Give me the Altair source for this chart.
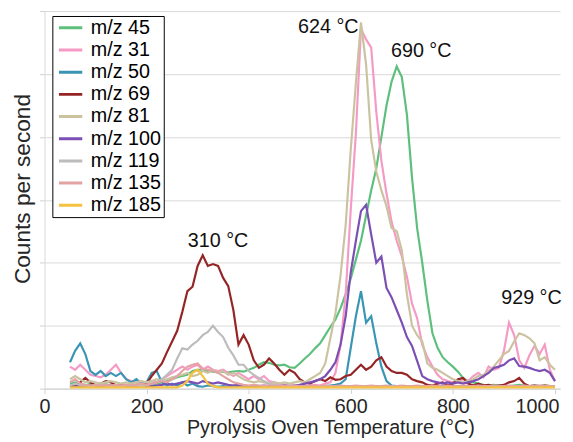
import altair as alt
import pandas as pd

temps = list(range(50, 1001, 10))

series_names = ["m/z 45", "m/z 31", "m/z 50", "m/z 69", "m/z 81",
                "m/z 100", "m/z 119", "m/z 135", "m/z 185"]
series_colors = ["#5cc07c", "#f59ac4", "#3a95b4", "#952525", "#cbc3a0",
                 "#7b4fb3", "#bcbcbc", "#e4a3a3", "#f5c242"]

cps_45 = [0.08, 0.10, 0.06, 0.05, 0.08, 0.06, 0.05, 0.07, 0.05, 0.04,
          0.05, 0.06, 0.05, 0.04, 0.05, 0.06, 0.07, 0.08, 0.10, 0.12,
          0.15, 0.18, 0.20, 0.22, 0.28, 0.30, 0.30, 0.28, 0.27, 0.26,
          0.27, 0.26, 0.27, 0.28, 0.27, 0.30, 0.33, 0.38, 0.42, 0.41,
          0.38, 0.37, 0.38, 0.34, 0.33, 0.40, 0.48, 0.55, 0.64, 0.72,
          0.85, 0.98, 1.10, 1.28, 1.50, 1.75, 2.05, 2.35, 2.75, 3.15,
          3.50, 4.00, 4.50, 4.88, 5.12, 4.95, 4.35, 3.35, 2.55, 2.00,
          1.40, 0.88, 0.65, 0.50, 0.42, 0.35, 0.27, 0.17, 0.12, 0.10,
          0.08, 0.06, 0.05, 0.06, 0.05, 0.05, 0.04, 0.05, 0.06, 0.05,
          0.04, 0.05, 0.04, 0.05, 0.04, 0.04]

cps_31 = [0.35, 0.30, 0.38, 0.30, 0.22, 0.20, 0.18, 0.22, 0.30, 0.38,
          0.25, 0.15, 0.12, 0.10, 0.08, 0.10, 0.12, 0.10, 0.15, 0.20,
          0.25, 0.30, 0.35, 0.30, 0.35, 0.38, 0.30, 0.35, 0.30, 0.28,
          0.30, 0.25, 0.20, 0.25, 0.20, 0.15, 0.20, 0.15, 0.20, 0.12,
          0.10, 0.08, 0.06, 0.05, 0.05, 0.06, 0.05, 0.05, 0.06, 0.05,
          0.08, 0.10, 0.25, 0.70, 1.50, 2.85, 4.05, 5.72, 5.55, 5.42,
          4.40, 3.62, 3.10, 2.65, 2.35, 2.10, 1.78, 1.35, 1.12, 0.70,
          0.50, 0.35, 0.22, 0.15, 0.12, 0.10, 0.12, 0.15, 0.12, 0.20,
          0.25, 0.18, 0.35, 0.30, 0.33, 0.60, 1.05, 0.85, 0.45, 0.33,
          0.53, 0.68, 0.55, 0.70, 0.30, 0.12]

cps_50 = [0.42, 0.60, 0.72, 0.55, 0.28, 0.22, 0.28, 0.20, 0.25, 0.20,
          0.25, 0.15, 0.10, 0.15, 0.08, 0.10, 0.25, 0.28, 0.10, 0.05,
          0.08, 0.05, 0.10, 0.05, 0.08, 0.04, 0.03, 0.05, 0.04, 0.03,
          0.04, 0.03, 0.05, 0.04, 0.03, 0.04, 0.03, 0.04, 0.03, 0.04,
          0.03, 0.04, 0.03, 0.04, 0.03, 0.04, 0.03, 0.04, 0.03, 0.04,
          0.04, 0.05, 0.06, 0.08, 0.15, 0.65, 1.15, 1.55, 1.05, 1.15,
          0.72, 0.35, 0.12, 0.05, 0.04, 0.03, 0.04, 0.03, 0.04, 0.03,
          0.03, 0.04, 0.03, 0.03, 0.04, 0.03, 0.03, 0.04, 0.03, 0.03,
          0.04, 0.03, 0.03, 0.04, 0.03, 0.03, 0.04, 0.03, 0.03, 0.04,
          0.03, 0.03, 0.04, 0.03, 0.03, 0.03]

cps_69 = [0.05, 0.03, 0.10, 0.17, 0.10, 0.05, 0.08, 0.12, 0.10, 0.05,
          0.06, 0.04, 0.05, 0.06, 0.05, 0.08, 0.20, 0.30, 0.40, 0.58,
          0.75, 0.92, 1.22, 1.55, 1.62, 1.95, 2.12, 1.95, 1.98, 1.95,
          1.76, 1.63, 1.25, 0.70, 0.85, 0.70, 0.45, 0.33, 0.38, 0.48,
          0.40, 0.30, 0.22, 0.30, 0.25, 0.15, 0.10, 0.08, 0.12, 0.15,
          0.12, 0.18, 0.14, 0.15, 0.20, 0.22, 0.30, 0.38, 0.30, 0.35,
          0.45, 0.50, 0.35, 0.28, 0.25, 0.25, 0.22, 0.15, 0.12, 0.10,
          0.06, 0.05, 0.08, 0.10, 0.05, 0.08, 0.15, 0.17, 0.08, 0.05,
          0.08, 0.05, 0.06, 0.04, 0.05, 0.06, 0.10, 0.12, 0.17, 0.08,
          0.04, 0.05, 0.04, 0.05, 0.04, 0.04]

cps_81 = [0.15, 0.20, 0.15, 0.10, 0.12, 0.10, 0.08, 0.10, 0.12, 0.10,
          0.08, 0.10, 0.08, 0.10, 0.12, 0.10, 0.12, 0.15, 0.12, 0.15,
          0.18, 0.20, 0.22, 0.25, 0.20, 0.22, 0.28, 0.25, 0.30, 0.25,
          0.28, 0.22, 0.25, 0.20, 0.15, 0.12, 0.10, 0.12, 0.10, 0.08,
          0.10, 0.08, 0.10, 0.08, 0.10, 0.12, 0.10, 0.15, 0.20, 0.25,
          0.40, 0.80, 1.20, 1.80, 2.60, 3.80, 4.85, 5.82, 5.15, 3.95,
          3.45, 3.15, 2.90, 2.55, 2.50, 2.20, 1.50, 1.00, 0.85, 0.75,
          0.40, 0.33, 0.30, 0.25, 0.20, 0.15, 0.12, 0.10, 0.12, 0.15,
          0.20, 0.22, 0.28, 0.35, 0.45, 0.55, 0.60, 0.75, 0.88, 0.85,
          0.80, 0.72, 0.45, 0.50, 0.38, 0.30]

cps_100 = [0.05, 0.03, 0.04, 0.03, 0.05, 0.04, 0.03, 0.04, 0.05, 0.03,
           0.04, 0.03, 0.04, 0.05, 0.04, 0.03, 0.04, 0.05, 0.06, 0.08,
           0.06, 0.08, 0.10, 0.12, 0.10, 0.08, 0.12, 0.10, 0.08, 0.10,
           0.08, 0.06, 0.05, 0.06, 0.05, 0.04, 0.05, 0.04, 0.05, 0.04,
           0.05, 0.04, 0.05, 0.04, 0.05, 0.06, 0.08, 0.10, 0.12, 0.15,
           0.20, 0.30, 0.42, 0.70, 1.15, 1.85, 2.35, 2.82, 2.92, 2.45,
           2.00, 2.10, 1.60, 1.45, 1.25, 1.05, 0.82, 0.68, 0.44, 0.20,
           0.15, 0.12, 0.10, 0.08, 0.10, 0.08, 0.10, 0.08, 0.10, 0.12,
           0.15, 0.20, 0.25, 0.33, 0.35, 0.38, 0.45, 0.48, 0.36, 0.35,
           0.33, 0.30, 0.28, 0.30, 0.25, 0.12]

cps_119 = [0.05, 0.08, 0.06, 0.05, 0.04, 0.05, 0.06, 0.05, 0.04, 0.05,
           0.04, 0.05, 0.06, 0.05, 0.04, 0.06, 0.08, 0.10, 0.15, 0.22,
           0.30, 0.48, 0.64, 0.62, 0.70, 0.76, 0.85, 0.90, 1.00, 0.90,
           0.82, 0.65, 0.53, 0.38, 0.38, 0.28, 0.22, 0.17, 0.12, 0.08,
           0.06, 0.05, 0.04, 0.05, 0.04, 0.03, 0.04, 0.03, 0.04, 0.03,
           0.03, 0.04, 0.03, 0.04, 0.03, 0.03, 0.04, 0.03, 0.03, 0.04,
           0.03, 0.03, 0.04, 0.03, 0.03, 0.04, 0.03, 0.03, 0.04, 0.03,
           0.03, 0.04, 0.03, 0.03, 0.04, 0.03, 0.03, 0.04, 0.03, 0.03,
           0.04, 0.03, 0.03, 0.04, 0.03, 0.03, 0.04, 0.03, 0.03, 0.04,
           0.03, 0.03, 0.04, 0.03, 0.03, 0.03]

cps_135 = [0.10, 0.15, 0.08, 0.06, 0.05, 0.06, 0.05, 0.06, 0.05, 0.06,
           0.05, 0.06, 0.05, 0.06, 0.08, 0.06, 0.08, 0.10, 0.12, 0.10,
           0.15, 0.20, 0.28, 0.35, 0.38, 0.40, 0.32, 0.30, 0.28, 0.25,
           0.20, 0.15, 0.10, 0.08, 0.06, 0.05, 0.06, 0.05, 0.04, 0.05,
           0.04, 0.05, 0.04, 0.04, 0.05, 0.04, 0.04, 0.05, 0.04, 0.04,
           0.05, 0.04, 0.04, 0.05, 0.04, 0.04, 0.05, 0.04, 0.04, 0.05,
           0.04, 0.04, 0.05, 0.04, 0.04, 0.05, 0.04, 0.04, 0.05, 0.04,
           0.04, 0.05, 0.04, 0.04, 0.05, 0.04, 0.04, 0.05, 0.04, 0.04,
           0.05, 0.04, 0.04, 0.05, 0.04, 0.04, 0.05, 0.04, 0.04, 0.05,
           0.04, 0.04, 0.05, 0.04, 0.04, 0.04]

cps_185 = [0.02, 0.02, 0.02, 0.02, 0.02, 0.02, 0.02, 0.02, 0.02, 0.02,
           0.02, 0.02, 0.02, 0.02, 0.02, 0.02, 0.02, 0.02, 0.02, 0.02,
           0.02, 0.02, 0.05, 0.12, 0.25, 0.30, 0.20, 0.08, 0.04, 0.02,
           0.02, 0.02, 0.02, 0.02, 0.02, 0.02, 0.02, 0.02, 0.02, 0.02,
           0.02, 0.02, 0.02, 0.02, 0.02, 0.02, 0.02, 0.02, 0.02, 0.02,
           0.02, 0.02, 0.02, 0.02, 0.02, 0.02, 0.02, 0.02, 0.02, 0.02,
           0.02, 0.02, 0.02, 0.02, 0.02, 0.02, 0.02, 0.02, 0.02, 0.02,
           0.02, 0.02, 0.02, 0.02, 0.02, 0.02, 0.02, 0.02, 0.02, 0.02,
           0.02, 0.02, 0.02, 0.02, 0.02, 0.02, 0.02, 0.02, 0.02, 0.02,
           0.02, 0.02, 0.02, 0.02, 0.02, 0.02]

series_values = [cps_45, cps_31, cps_50, cps_69, cps_81,
                 cps_100, cps_119, cps_135, cps_185]

x_tick_values = [0, 200, 400, 600, 800, 1000]

annot_text = ["624 °C", "690 °C", "310 °C", "929 °C"]
annot_temp = [556, 738, 340, 954]
annot_cps = [5.75, 5.36, 2.35, 1.44]

FONT = "Liberation Sans"

rows = []
for name, vals in zip(series_names, series_values):
    for t, v in zip(temps, vals):
        rows.append({"temp": t, "cps": v, "series": name})
df = pd.DataFrame(rows)

annot_df = pd.DataFrame({"label": annot_text, "temp": annot_temp, "cps": annot_cps})

x_enc = alt.X(
    "temp:Q",
    scale=alt.Scale(domain=[0, 1010], nice=False),
    axis=alt.Axis(
        title="Pyrolysis Oven Temperature (°C)",
        values=x_tick_values,
        format="d",
        labelAlign=alt.ExprRef(expr="datum.value === 1000 ? 'right' : 'center'"),
        labelOffset=alt.ExprRef(expr="datum.value === 1000 ? 4 : 0"),
        labelOverlap=False,
        grid=False,
        ticks=True,
        tickSize=5,
        tickColor="#d0d0d0",
        domainColor="#d0d0d0",
        labelFont=FONT,
        labelFontSize=20,
        labelColor="#262626",
        labelPadding=3,
        titleFont=FONT,
        titleFontSize=20,
        titleFontWeight="normal",
        titleColor="#262626",
        titlePadding=2,
        titleX=290,
    ),
)
y_enc = alt.Y(
    "cps:Q",
    scale=alt.Scale(domain=[0, 6], nice=False),
    axis=alt.Axis(
        title="Counts per second",
        values=[0, 1, 2, 3, 4, 5, 6],
        labels=False,
        grid=True,
        gridColor="#d9d9d9",
        ticks=True,
        tickSize=5,
        tickColor="#d0d0d0",
        domainColor="#d9d9d9",
        titleFont=FONT,
        titleFontSize=23,
        titleFontWeight="normal",
        titleColor="#262626",
        titlePadding=5,
        titleY=180,
    ),
)
color_enc = alt.Color(
    "series:N",
    scale=alt.Scale(domain=series_names, range=series_colors),
    legend=alt.Legend(
        title=None,
        orient="none",
        legendX=8,
        legendY=5,
        strokeColor="#000000",
        fillColor="#ffffff",
        padding=2,
        symbolType="stroke",
        symbolSize=560,
        symbolStrokeWidth=3,
        symbolOffset=3,
        labelFont=FONT,
        labelFontSize=20,
        labelColor="#000000",
        labelOffset=7,
        clipHeight=20,
        rowPadding=2.5,
    ),
)

layers = []
for name in series_names:
    layers.append(
        alt.Chart(df)
        .transform_filter(alt.datum.series == name)
        .mark_line(strokeWidth=2.2)
        .encode(x=x_enc, y=y_enc, color=color_enc)
    )

labels = alt.Chart(annot_df).mark_text(
    font=FONT, fontSize=20, color="#111111", align="center", baseline="middle"
).encode(x="temp:Q", y="cps:Q", text="label:N")

chart = (
    alt.layer(*layers, labels)
    .properties(
        width=523,
        height=383,
        autosize=alt.AutoSizeParams(type="none"),
        padding={"left": 37, "top": 0, "right": 5, "bottom": 50},
        background="white",
    )
    .configure_view(stroke=None)
)

chart.save("out.html", embed_options={"renderer": "svg", "actions": False})
